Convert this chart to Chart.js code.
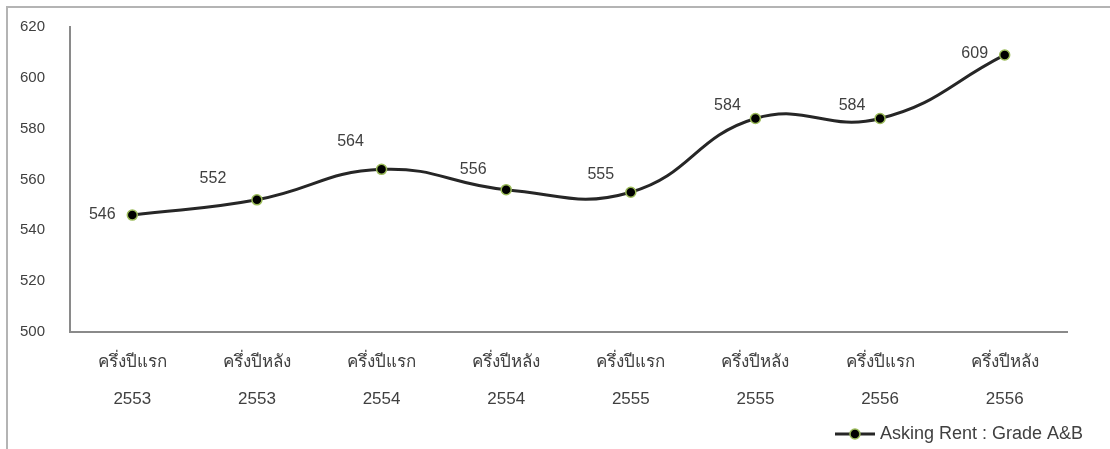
<!DOCTYPE html>
<html>
<head>
<meta charset="utf-8">
<script src="https://cdn.jsdelivr.net/npm/chart.js@4"></script>
<style>
  body { margin: 0; background: #fff; }
  #wrap { position: relative; width: 1110px; height: 449px; }
  #frame {
    position: absolute; left: 6px; top: 6px; right: 0; bottom: 0;
    border-left: 2px solid #b4b4b4; border-top: 2px solid #b4b4b4;
    pointer-events: none;
  }
  canvas { position: absolute; left: 0; top: 0; }
</style>
</head>
<body>
<div id="wrap">
  <canvas id="rentChart" width="1110" height="449"></canvas>
  <div id="frame"></div>
</div>
<script>
// Chart data
const halves = ["ครึ่งปีแรก", "ครึ่งปีหลัง", "ครึ่งปีแรก", "ครึ่งปีหลัง", "ครึ่งปีแรก", "ครึ่งปีหลัง", "ครึ่งปีแรก", "ครึ่งปีหลัง"];
const years = ["2553", "2553", "2554", "2554", "2555", "2555", "2556", "2556"];
const askingRent = [546, 552, 564, 556, 555, 584, 584, 609];
const seriesName = "Asking Rent : Grade A&B";

const yMin = 500, yMax = 620, yStep = 20;

const FONT = "'Liberation Sans', Arial, sans-serif";
const TEXT = "#404040";

// legend marker: a short line with the dot on it
function legendMarker() {
    const c = document.createElement("canvas");
    c.width = 40; c.height = 14;
    const g = c.getContext("2d");
    g.strokeStyle = "#262626";
    g.lineWidth = 3;
    g.beginPath(); g.moveTo(0, 7); g.lineTo(40, 7); g.stroke();
    g.beginPath(); g.arc(20, 7, 5, 0, Math.PI * 2);
    g.fillStyle = "#000"; g.fill();
    g.lineWidth = 1.5; g.strokeStyle = "#9bbb59"; g.stroke();
    return c;
}
const marker = legendMarker();

// value labels sit up and to the left of each point, like the original
const valueLabels = {
    id: "valueLabels",
    afterDatasetsDraw(chart, args, opts) {
        const ctx = chart.ctx;
        const meta = chart.getDatasetMeta(0);
        ctx.save();
        ctx.font = "16px " + FONT;
        ctx.fillStyle = TEXT;
        ctx.textAlign = "center";
        ctx.textBaseline = "middle";
        meta.data.forEach((pt, i) => {
            const off = opts.offsets[i] || [-30, -18];
            ctx.fillText(chart.data.datasets[0].data[i], pt.x + off[0], pt.y + off[1]);
        });
        ctx.restore();
    }
};

new Chart(document.getElementById("rentChart").getContext("2d"), {
    type: "line",
    data: {
        labels: halves.map((h, i) => [h, years[i]]),
        datasets: [{
            label: seriesName,
            data: askingRent,
            borderColor: "#262626",
            borderWidth: 3,
            tension: 0.45,
            pointRadius: 5,
            pointHoverRadius: 5,
            pointBackgroundColor: "#000",
            pointBorderColor: "#9bbb59",
            pointBorderWidth: 1.5,
            pointStyle: "circle",
            yAxisID: "y"
        }]
    },
    options: {
        responsive: false,
        animation: false,
        layout: { padding: { top: 27, right: 24, bottom: -4, left: 20 } },
        scales: {
            x: {
                offset: true,
                grid: { display: false, drawTicks: false },
                border: { display: true, color: "#8a8a8a", width: 2 },
                ticks: {
                    color: TEXT,
                    padding: 12,
                    maxRotation: 0,
                    autoSkip: false,
                    font: { family: FONT, size: 17, lineHeight: 2.15 }
                },
                afterFit(s) { s.height = 90; }
            },
            y: {
                min: yMin,
                max: yMax,
                grid: { display: false, drawTicks: false },
                border: { display: true, color: "#8a8a8a", width: 2 },
                ticks: {
                    stepSize: yStep,
                    color: TEXT,
                    padding: 3,
                    crossAlign: "far",
                    font: { family: FONT, size: 15 }
                },
                afterFit(s) { s.width = 50; }
            },
            spacer: {
                position: "right",
                display: true,
                grid: { display: false, drawTicks: false },
                border: { display: false },
                ticks: { display: false },
                afterFit(s) { s.width = 19; }
            }
        },
        plugins: {
            legend: {
                position: "bottom",
                align: "end",
                labels: {
                    usePointStyle: true,
                    pointStyleWidth: 32,
                    color: TEXT,
                    padding: 3,
                    font: { family: FONT, size: 18 },
                    generateLabels(chart) {
                        const items = Chart.defaults.plugins.legend.labels.generateLabels(chart);
                        items.forEach(it => { it.pointStyle = marker; });
                        return items;
                    }
                }
            },
            tooltip: { enabled: false },
            valueLabels: {
                offsets: [[-30, 0], [-44, -21], [-31, -28], [-33, -20], [-30, -18], [-28, -13], [-28, -13], [-30, -1]]
            }
        }
    },
    plugins: [valueLabels]
});
</script>
</body>
</html>
